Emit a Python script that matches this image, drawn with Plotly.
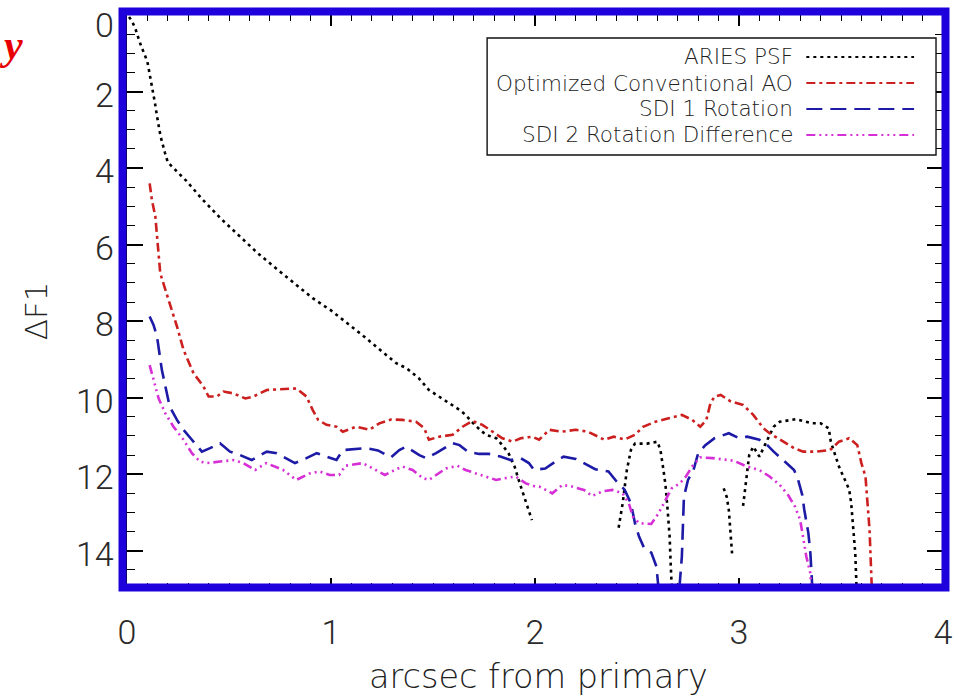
import plotly.graph_objects as go

# Contrast curves: delta magnitude vs separation from the primary star
aries_x = [0.01, 0.023, 0.04, 0.067, 0.10, 0.116, 0.137, 0.15, 0.165, 0.186, 0.20, 0.29, 0.37, 0.46, 0.55,
           0.64, 0.73, 0.82, 0.91, 1.0, 1.07, 1.15, 1.24, 1.32, 1.37, 1.43, 1.48, 1.53, 1.58, 1.63, 1.66,
           1.69, 1.73, 1.76, 1.81, 1.84, 1.87, 1.90, 1.92, 1.94, 1.96, 1.985, None,
           2.41, 2.43, 2.45, 2.47, 2.49, 2.55, 2.60, 2.615, 2.63, 2.64, 2.65, 2.66, 2.665, 2.675, None,
           2.925, 2.94, 2.95, 2.955, 2.966, None,
           3.02, 3.03, 3.04, 3.05, 3.07, 3.10, 3.13, 3.17, 3.20, 3.28, 3.36, 3.40, 3.44, 3.45, 3.49,
           3.51, 3.54, 3.55, 3.56, 3.57, 3.58]
aries_y = [0.05, 0.15, 0.34, 0.78, 1.22, 1.65, 2.3, 2.74, 3.18, 3.6, 3.85, 4.33, 4.82, 5.32, 5.78,
           6.22, 6.62, 7.0, 7.4, 7.72, 8.01, 8.35, 8.75, 9.1, 9.23, 9.49, 9.8, 9.97, 10.15, 10.32, 10.45,
           10.63, 10.84, 10.97, 11.06, 11.24, 11.45, 11.8, 12.15, 12.5, 12.8, 13.2, None,
           13.4, 12.75, 11.9, 11.37, 11.2, 11.2, 11.15, 11.37, 11.9, 12.3, 12.93, 13.63, 14.33, 15.5, None,
           12.37, 12.6, 12.93, 13.37, 14.07, None,
           12.83, 12.37, 11.9, 11.5, 11.28, 11.54, 11.2, 10.76, 10.63, 10.56, 10.67, 10.67, 10.8, 11.15, 11.8,
           12.06, 12.4, 12.76, 13.46, 14.07, 15.5]

ao_x = [0.111, 0.122, 0.139, 0.15, 0.163, 0.204, 0.245, 0.277, 0.326, 0.375, 0.40, 0.44, 0.473, 0.522,
        0.58, 0.62, 0.685, 0.75, 0.83, 0.88, 0.91, 0.937, 0.978, 1.027, 1.058, 1.123, 1.188, 1.237, 1.294,
        1.35, 1.417, 1.457, 1.48, 1.53, 1.596, 1.645, 1.693, 1.742, 1.79, 1.84, 1.89, 1.93, 1.987, 2.02,
        2.07, 2.13, 2.2, 2.26, 2.34, 2.386, 2.44, 2.49, 2.53, 2.59, 2.655, 2.72, 2.77, 2.81, 2.84, 2.86,
        2.88, 2.91, 2.96, 3.02, 3.07, 3.12, 3.15, 3.22, 3.27, 3.315, 3.38, 3.446, 3.49, 3.54, 3.58, 3.60,
        3.62, 3.63, 3.64, 3.645, 3.65, 3.655]
ao_y = [4.4, 4.83, 5.27, 6.05, 6.75, 7.45, 8.14, 8.75, 9.36, 9.71, 9.97, 9.97, 9.84, 9.89,
        10.02, 9.97, 9.8, 9.78, 9.76, 9.97, 10.32, 10.58, 10.71, 10.76, 10.89, 10.76, 10.84, 10.67, 10.57,
        10.58, 10.63, 10.8, 11.1, 11.02, 10.97, 10.76, 10.61, 10.71, 10.89, 11.06, 11.15, 11.06, 11.02, 11.1,
        10.84, 10.89, 10.84, 10.89, 11.1, 11.02, 11.09, 10.97, 10.76, 10.63, 10.54, 10.45, 10.58, 10.76, 10.58, 10.15,
        9.97, 9.93, 10.1, 10.19, 10.45, 10.8, 10.93, 11.15, 11.32, 11.41, 11.41, 11.37, 11.15, 11.06, 11.24, 11.71,
        12.06, 12.76, 13.46, 14.15, 14.85, 15.5]

sdi1_x = [0.111, 0.13, 0.147, 0.158, 0.171, 0.192, 0.209, 0.245, 0.277, 0.318, 0.367, 0.407, 0.456, 0.505,
          0.554, 0.611, 0.685, 0.734, 0.782, 0.823, 0.88, 0.93, 0.978, 1.027, 1.058, 1.115, 1.172, 1.23,
          1.294, 1.335, 1.368, 1.433, 1.466, 1.515, 1.54, 1.596, 1.63, 1.67, 1.726, 1.775, 1.83, 1.88, 1.93,
          1.97, 1.995, 2.05, 2.1, 2.14, 2.2, 2.255, 2.295, 2.36, 2.4, 2.44, 2.47, 2.49, 2.51, 2.535, 2.57,
          2.595, 2.605, 2.615, 2.70, 2.71, 2.72, 2.725, 2.73, 2.75, 2.777, 2.8, 2.835, 2.88, 2.95, 3.0, 3.04,
          3.1, 3.13, 3.17, 3.226, 3.27, 3.29, 3.31, 3.32, 3.34, 3.35, 3.356, 3.365]
sdi1_y = [7.88, 8.1, 8.4, 8.84, 9.28, 9.8, 10.23, 10.58, 10.84, 11.1, 11.41, 11.32, 11.19, 11.41,
          11.5, 11.63, 11.41, 11.45, 11.58, 11.71, 11.58, 11.45, 11.54, 11.63, 11.37, 11.35, 11.32, 11.38,
          11.56, 11.37, 11.28, 11.5, 11.58, 11.45, 11.37, 11.19, 11.24, 11.41, 11.47, 11.47, 11.54, 11.63, 11.58,
          11.71, 11.89, 11.85, 11.67, 11.54, 11.6, 11.76, 11.87, 11.93, 12.19, 12.41, 12.76, 13.28, 13.63, 13.93, 14.05,
          14.41, 14.85, 15.5, 15.5, 14.85, 14.15, 13.37, 12.59, 12.15, 11.89, 11.45, 11.24, 11.06, 10.93, 11.06, 11.02,
          11.1, 11.19, 11.41, 11.67, 11.89, 12.15, 12.54, 12.93, 13.54, 14.07, 14.68, 15.5]

sdi2_x = [0.111, 0.13, 0.155, 0.188, 0.228, 0.277, 0.318, 0.358, 0.391, 0.456, 0.522, 0.57, 0.611, 0.628,
          0.683, 0.765, 0.83, 0.895, 0.944, 0.993, 1.04, 1.07, 1.156, 1.215, 1.264, 1.313, 1.35, 1.4, 1.45,
          1.48, 1.515, 1.563, 1.62, 1.66, 1.71, 1.76, 1.81, 1.857, 1.905, 1.955, 2.0, 2.02, 2.085, 2.134,
          2.18, 2.24, 2.28, 2.33, 2.38, 2.43, 2.46, 2.48, 2.51, 2.57, 2.606, 2.64, 2.67, 2.71, 2.74, 2.77,
          2.81, 2.87, 2.93, 2.975, 3.04, 3.1, 3.15, 3.2, 3.24, 3.275, 3.3, 3.315, 3.33, 3.35, 3.36]
sdi2_y = [9.15, 9.54, 10.02, 10.41, 10.76, 11.1, 11.45, 11.67, 11.71, 11.67, 11.63, 11.71, 11.85, 11.89,
          11.71, 11.89, 12.15, 11.98, 11.93, 12.02, 12.02, 11.78, 11.71, 11.89, 12.02, 11.89, 11.8, 11.89, 12.1,
          12.15, 12.02, 11.85, 11.78, 11.89, 11.98, 12.06, 12.15, 12.1, 12.06, 12.24, 12.32, 12.32, 12.5, 12.28,
          12.32, 12.41, 12.57, 12.45, 12.41, 12.5, 12.76, 13.11, 13.28, 13.3, 13.02, 12.67, 12.37, 12.24, 12.06, 11.8,
          11.56, 11.58, 11.63, 11.65, 11.8, 11.89, 12.06, 12.28, 12.54, 12.85, 13.2, 13.63, 14.15, 14.59, 15.5]

series_names = ["ARIES PSF", "Optimized Conventional AO", "SDI 1 Rotation", "SDI 2 Rotation Difference"]
x_tick_vals = [0, 1, 2, 3, 4]
y_tick_vals = [0, 2, 4, 6, 8, 10, 12, 14]

colors = ["#000000", "#cc1f1f", "#1c1aa6", "#d62fd6"]
dashes = ["3px,4px", "9px,4px,3px,4px", "16px,8px", "9px,4px,2px,4px,2px,4px,2px,4px"]

W, H = 965, 695
L, R, T, B = 127, 945, 15, 589   # plot area in pixels


def px_x(p):
    return (p - L) / (R - L)


def px_y(p):
    return (B - p) / (B - T)


TICK_FONT = dict(family="Roboto", size=34, color="#2a2a2a", weight=300)
TEXT_FONT = "DejaVu Sans"
TXT = "#222222"

fig = go.Figure()
for xs, ys, name, c, d in zip([aries_x, ao_x, sdi1_x, sdi2_x], [aries_y, ao_y, sdi1_y, sdi2_y],
                              series_names, colors, dashes):
    fig.add_trace(go.Scatter(x=xs, y=ys, mode="lines", name=name,
                             line=dict(color=c, width=2.6, dash=d), showlegend=False))

shapes = []
annotations = []

# legend box with right-aligned labels and line samples
shapes.append(dict(type="rect", xref="paper", yref="paper", x0=px_x(488), x1=px_x(938),
                   y0=px_y(155), y1=px_y(38), line=dict(color="#111", width=1.4),
                   fillcolor="white", layer="above"))
for i, (name, c, d) in enumerate(zip(series_names, colors, dashes)):
    yy = px_y(57 + 26 * i)
    annotations.append(dict(text=name, xref="paper", yref="paper", x=px_x(797), y=yy,
                            xanchor="right", yanchor="middle", showarrow=False,
                            font=dict(family=TEXT_FONT, size=21.5, color=TXT, weight=200)))
    shapes.append(dict(type="line", xref="paper", yref="paper", x0=px_x(808), x1=px_x(916),
                       y0=yy, y1=yy, line=dict(color=c, width=2.2, dash=d), layer="above"))

# y tick labels, placed just left of the frame
for v in y_tick_vals:
    annotations.append(dict(text=str(v), xref="paper", yref="y", x=px_x(116), y=v,
                            xanchor="right", yanchor="middle", showarrow=False,
                            yshift=-10 if v == 0 else -3, font=TICK_FONT))

# thick blue frame around the plot
shapes.append(dict(type="rect", xref="paper", yref="paper",
                   x0=px_x(122.5), x1=px_x(947.5), y0=px_y(587.5), y1=px_y(11.5),
                   line=dict(color="#1e00dc", width=8), layer="above"))

annotations.append(dict(text="arcsec from primary", xref="paper", yref="paper",
                        x=px_x(540), y=px_y(676), xanchor="center", yanchor="middle",
                        showarrow=False, font=dict(family=TEXT_FONT, size=33.5, color=TXT, weight=200)))
annotations.append(dict(text="ΔF1", xref="paper", yref="paper", textangle=-90,
                        x=px_x(36), y=px_y(311), xanchor="center", yanchor="middle",
                        showarrow=False, font=dict(family=TEXT_FONT, size=31, color=TXT, weight=200)))
annotations.append(dict(text="y", xref="paper", yref="paper",
                        x=px_x(11), y=px_y(45), xanchor="center", yanchor="middle",
                        showarrow=False,
                        font=dict(family="Liberation Serif", size=42, color="#e80000",
                                  weight="bold", style="italic")))

axis_common = dict(showline=True, linecolor="black", linewidth=1.5, mirror="allticks",
                   ticks="inside", tickcolor="black", tickwidth=1.5, showgrid=False,
                   zeroline=False)

fig.update_layout(
    width=W, height=H,
    margin=dict(l=L, r=W - R, t=T, b=H - B, pad=0),
    paper_bgcolor="white", plot_bgcolor="white",
    xaxis=dict(range=[0, 4], tickvals=x_tick_vals, ticklen=11.5, ticklabelstandoff=12,
               tickfont=TICK_FONT,
               minor=dict(dtick=0.1, ticklen=6, ticks="inside", tickcolor="black", tickwidth=1.2),
               **axis_common),
    yaxis=dict(range=[15, 0], tickvals=y_tick_vals, ticklen=16, showticklabels=False,
               minor=dict(dtick=0.5, ticklen=8, ticks="inside", tickcolor="black", tickwidth=1.2),
               **axis_common),
    shapes=shapes,
    annotations=annotations,
    showlegend=False,
)

fig.write_html("out.html")
